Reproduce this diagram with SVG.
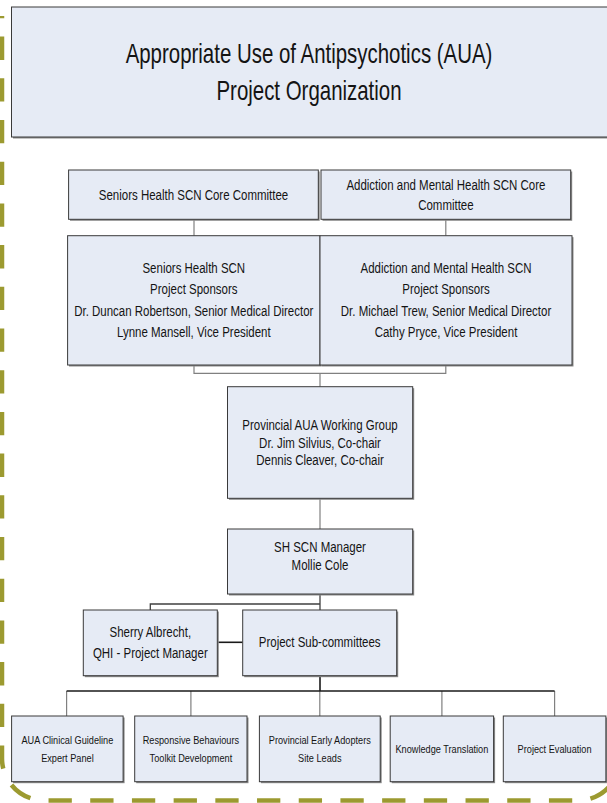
<svg xmlns="http://www.w3.org/2000/svg" width="607" height="803" viewBox="0 0 607 803">
<style>
.box{fill:#E6EBF5;stroke:#3a3a3a;stroke-width:1}
.sh{fill:#8a8a8a}
.t{font-family:"Liberation Sans",Arial,sans-serif;font-size:14px;fill:#141414;text-anchor:middle}
.s{font-size:11.2px}
.g{fill:none;stroke:#808080;stroke-width:1.2}
.d{fill:none;stroke:#404040;stroke-width:1.3}
.k{fill:none;stroke:#1a1a1a;stroke-width:1.6}
</style>
<rect width="607" height="803" fill="#ffffff"/>
<path id="border" d="M2,17 V758.5 A42,42 0 0 0 44,800.5 H578 A42,42 0 0 0 620,758.5 V17 A42,42 0 0 0 578,-25 H44 A42,42 0 0 0 2,17 Z" fill="none" stroke="#9C9A30" stroke-width="4.5" stroke-dasharray="23.3 18.4" stroke-dashoffset="22.1"/>

<g id="title">
<rect class="sh" x="13" y="8.5" width="620" height="130"/>
<rect class="box" x="11.5" y="7" width="620" height="130" stroke-width="1.5"/>
<text class="t" transform="translate(309,0) scale(0.73,1)"><tspan x="0" y="63.5" font-size="28">Appropriate Use of Antipsychotics (AUA)</tspan><tspan x="0" y="100" font-size="28">Project Organization</tspan></text>
</g>

<g id="connectors">
<path class="g" d="M194,219.3 V235.7"/>
<path class="g" d="M445.8,219.3 V235.7"/>
<path class="g" d="M194,365 V373.3 H445.8 V365"/>
<path class="g" d="M320,373.3 V386.7"/>
<path class="g" d="M320,498.3 V529"/>
<path class="d" d="M320,594 V610"/>
<path class="d" d="M320,604 H150.3 V610"/>
<path class="k" d="M217.3,642.3 H242.7"/>
<path class="k" d="M320,675.7 V691"/>
<path class="g" d="M66.6,691 V716 M190.9,691 V716 M319.8,691 V716 M441.9,691 V716 M554.6,691 V716"/>
<path class="k" d="M66.6,691 H554.6"/>
</g>

<g id="shcore">
<rect class="sh" x="70" y="171.5" width="249.7" height="49.3"/>
<rect class="box" x="68.6" y="170" width="249.7" height="49.3"/>
<text class="t" transform="translate(193.5,0) scale(0.82,1)"><tspan x="0" y="200">Seniors Health SCN Core Committee</tspan></text>
</g>

<g id="amhcore">
<rect class="sh" x="322.5" y="171.5" width="249.7" height="49.3"/>
<rect class="box" x="321" y="170" width="249.7" height="49.3"/>
<text class="t" transform="translate(445.9,0) scale(0.82,1)"><tspan x="0" y="190">Addiction and Mental Health SCN Core</tspan><tspan x="0" y="210">Committee</tspan></text>
</g>

<g id="shsponsors">
<rect class="sh" x="69" y="237.2" width="252.4" height="129.3"/>
<rect class="box" x="67.6" y="235.7" width="252.4" height="129.3"/>
<text class="t" transform="translate(193.8,0) scale(0.82,1)"><tspan x="0" y="273">Seniors Health SCN</tspan><tspan x="0" y="294.5">Project Sponsors</tspan><tspan x="0" y="316">Dr. Duncan Robertson, Senior Medical Director</tspan><tspan x="0" y="337">Lynne Mansell, Vice President</tspan></text>
</g>

<g id="amhsponsors">
<rect class="sh" x="321.5" y="237.2" width="252" height="129.3"/>
<rect class="box" x="320" y="235.7" width="252" height="129.3"/>
<text class="t" transform="translate(446,0) scale(0.82,1)"><tspan x="0" y="273">Addiction and Mental Health SCN</tspan><tspan x="0" y="294.5">Project Sponsors</tspan><tspan x="0" y="316">Dr. Michael Trew, Senior Medical Director</tspan><tspan x="0" y="337">Cathy Pryce, Vice President</tspan></text>
</g>

<g id="workinggroup">
<rect class="sh" x="229" y="388.2" width="185.2" height="111.6"/>
<rect class="box" x="227.5" y="386.7" width="185.2" height="111.6"/>
<text class="t" transform="translate(320,0) scale(0.82,1)"><tspan x="0" y="430">Provincial AUA Working Group</tspan><tspan x="0" y="447.7">Dr. Jim Silvius, Co-chair</tspan><tspan x="0" y="465">Dennis Cleaver, Co-chair</tspan></text>
</g>

<g id="manager">
<rect class="sh" x="229" y="530.5" width="185.2" height="65"/>
<rect class="box" x="227.5" y="529" width="185.2" height="65"/>
<text class="t" transform="translate(320,0) scale(0.82,1)"><tspan x="0" y="551.6">SH SCN Manager</tspan><tspan x="0" y="570">Mollie Cole</tspan></text>
</g>

<g id="sherry">
<rect class="sh" x="84.8" y="611.5" width="134" height="65.7"/>
<rect class="box" x="83.3" y="610" width="134" height="65.7"/>
<text class="t" transform="translate(150.3,0) scale(0.82,1)"><tspan x="0" y="636.6">Sherry Albrecht,</tspan><tspan x="0" y="658.2">QHI - Project Manager</tspan></text>
</g>

<g id="subcommittees">
<rect class="sh" x="244.2" y="611.5" width="154" height="65.7"/>
<rect class="box" x="242.7" y="610" width="154" height="65.7"/>
<text class="t" transform="translate(319.7,0) scale(0.82,1)"><tspan x="0" y="647.2">Project Sub-committees</tspan></text>
</g>

<g id="guideline">
<rect class="sh" x="13.1" y="717.5" width="111.5" height="65.7"/>
<rect class="box" x="11.6" y="716" width="111.5" height="65.7"/>
<text class="t s" transform="translate(67.4,0) scale(0.82,1)"><tspan x="0" y="744">AUA Clinical Guideline</tspan><tspan x="0" y="762">Expert Panel</tspan></text>
</g>

<g id="toolkit">
<rect class="sh" x="136.2" y="717.5" width="112.3" height="65.7"/>
<rect class="box" x="134.7" y="716" width="112.3" height="65.7"/>
<text class="t s" transform="translate(190.9,0) scale(0.82,1)"><tspan x="0" y="744">Responsive Behaviours</tspan><tspan x="0" y="762">Toolkit Development</tspan></text>
</g>

<g id="adopters">
<rect class="sh" x="260.9" y="717.5" width="120.8" height="65.7"/>
<rect class="box" x="259.4" y="716" width="120.8" height="65.7"/>
<text class="t s" transform="translate(319.8,0) scale(0.82,1)"><tspan x="0" y="744">Provincial Early Adopters</tspan><tspan x="0" y="762">Site Leads</tspan></text>
</g>

<g id="translation">
<rect class="sh" x="391.7" y="717.5" width="103.4" height="65.7"/>
<rect class="box" x="390.2" y="716" width="103.4" height="65.7"/>
<text class="t s" transform="translate(441.9,0) scale(0.82,1)"><tspan x="0" y="753">Knowledge Translation</tspan></text>
</g>

<g id="evaluation">
<rect class="sh" x="504.8" y="717.5" width="102.6" height="65.7"/>
<rect class="box" x="503.3" y="716" width="102.6" height="65.7"/>
<text class="t s" transform="translate(554.6,0) scale(0.82,1)"><tspan x="0" y="753">Project Evaluation</tspan></text>
</g>
</svg>
